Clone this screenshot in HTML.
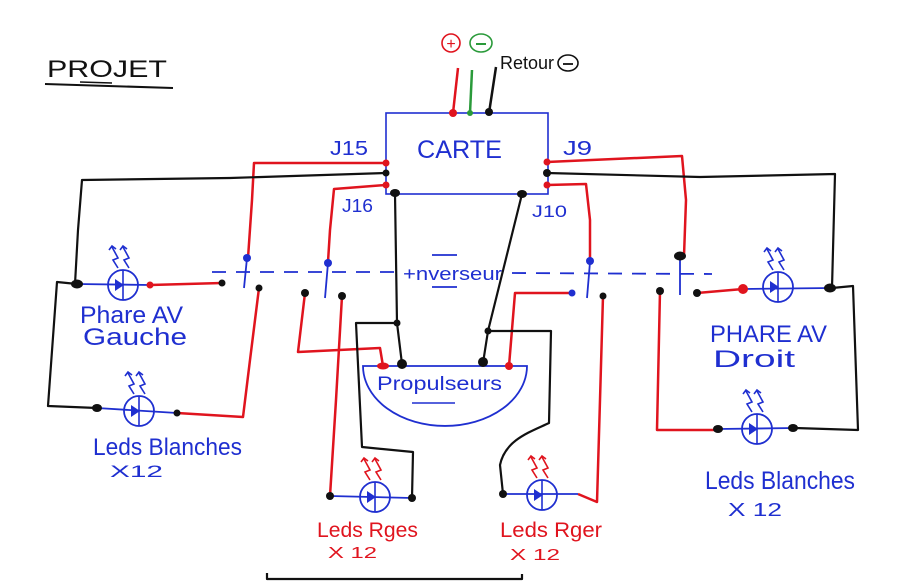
<!DOCTYPE html>
<html><head><meta charset="utf-8"><style>html,body{margin:0;padding:0;background:#fff}svg{display:block}</style></head>
<body>
<svg width="907" height="584" viewBox="0 0 907 584" xmlns="http://www.w3.org/2000/svg" font-family="Liberation Sans, sans-serif">
<rect width="907" height="584" fill="#fff"/>
<defs>
<g id="led">
  <circle cx="0" cy="0" r="15" fill="none" stroke="#1f2fd0" stroke-width="1.8"/>
  <line x1="0" y1="-15" x2="0" y2="15" stroke="#1f2fd0" stroke-width="1.6"/>
  <polygon points="-8,-6 -8,6 1,0" fill="#1f2fd0"/>
</g>
<g id="emitB" fill="none" stroke="#1f2fd0" stroke-width="1.6">
  <polyline points="-5,-17 -10,-25 -5,-27 -11,-38"/>
  <polyline points="-14,-35 -11,-39 -7,-36"/>
  <polyline points="6,-17 1,-25 6,-27 0,-38"/>
  <polyline points="-3,-35 0,-39 4,-36"/>
</g>
<g id="emitR" fill="none" stroke="#e0141e" stroke-width="1.6">
  <polyline points="-5,-17 -10,-25 -5,-27 -11,-38"/>
  <polyline points="-14,-35 -11,-39 -7,-36"/>
  <polyline points="6,-17 1,-25 6,-27 0,-38"/>
  <polyline points="-3,-35 0,-39 4,-36"/>
</g>
</defs>

<!-- Title -->
<text x="47" y="77" font-size="24" fill="#111" textLength="120" lengthAdjust="spacingAndGlyphs">PROJET</text>
<path d="M45,84 L173,88" stroke="#111" stroke-width="2" fill="none"/>
<path d="M80,82 L112,83" stroke="#111" stroke-width="1.5" fill="none"/>

<!-- power -->
<circle cx="451" cy="43" r="9" fill="none" stroke="#e0141e" stroke-width="1.6"/>
<text x="451" y="49" font-size="16" fill="#e0141e" text-anchor="middle">+</text>
<ellipse cx="481" cy="43" rx="11" ry="9" fill="none" stroke="#2a9a3a" stroke-width="1.6"/>
<line x1="476" y1="44" x2="486" y2="44" stroke="#2a9a3a" stroke-width="2"/>
<text x="500" y="69" font-size="18" fill="#111" textLength="54" lengthAdjust="spacingAndGlyphs">Retour</text>
<ellipse cx="568" cy="63" rx="10" ry="8" fill="none" stroke="#111" stroke-width="1.6"/>
<line x1="563" y1="64" x2="573" y2="64" stroke="#111" stroke-width="1.8"/>
<path d="M458,68 L453,113" stroke="#e0141e" stroke-width="2.5" fill="none"/>
<path d="M472,70 L470,113" stroke="#2a9a3a" stroke-width="2.5" fill="none"/>
<path d="M496,67 L489,113" stroke="#111" stroke-width="2.5" fill="none"/>

<!-- CARTE -->
<rect x="386" y="113" width="162" height="81" fill="none" stroke="#1f2fd0" stroke-width="1.6"/>
<text x="417" y="158" font-size="25" fill="#1f2fd0" textLength="85" lengthAdjust="spacingAndGlyphs">CARTE</text>
<text x="330" y="155" font-size="20" fill="#1f2fd0" textLength="38" lengthAdjust="spacingAndGlyphs">J15</text>
<text x="342" y="212" font-size="18" fill="#1f2fd0" textLength="31" lengthAdjust="spacingAndGlyphs">J16</text>
<text x="563" y="155" font-size="20" fill="#1f2fd0" textLength="29" lengthAdjust="spacingAndGlyphs">J9</text>
<text x="532" y="217" font-size="17" fill="#1f2fd0" textLength="35" lengthAdjust="spacingAndGlyphs">J10</text>

<!-- inverseur dashed link -->
<g stroke="#1f2fd0" stroke-width="1.8" fill="none">
  <path d="M212,272 L395,272" stroke-dasharray="14 10"/>
  <path d="M512,273 L712,274" stroke-dasharray="14 10"/>
  <path d="M247,258 L244,288"/>
  <path d="M328,263 L325,298"/>
  <path d="M590,262 L587,298"/>
  <path d="M680,256 L680,295"/>
  <path d="M432,255 L457,255"/>
  <path d="M432,287 L457,287"/>
</g>
<text x="403" y="280" font-size="18" fill="#1f2fd0" textLength="99" lengthAdjust="spacingAndGlyphs">+nverseur</text>

<!-- Propulseurs -->
<path d="M363,366 L527,366 A82,60 0 0 1 363,366 Z" fill="none" stroke="#1f2fd0" stroke-width="1.8"/>
<text x="377" y="390" font-size="19" fill="#1f2fd0" textLength="125" lengthAdjust="spacingAndGlyphs">Propulseurs</text>
<path d="M412,403 L455,403" stroke="#1f2fd0" stroke-width="1.6"/>

<!-- red wires -->
<g stroke="#e0141e" stroke-width="2.5" fill="none" stroke-linejoin="round">
  <path d="M386,163 L254,163 L252,200 L248,258"/>
  <path d="M386,185 L334,189 L330,230 L328,262"/>
  <path d="M547,162 L682,156 L686,200 L684,256"/>
  <path d="M547,185 L586,184 L590,220 L590,258"/>
  <path d="M150,285 L222,283"/>
  <path d="M259,288 L250,360 L243,417 L177,413"/>
  <path d="M305,293 L298,352 L380,348 L383,366"/>
  <path d="M342,296 L336,400 L330,496"/>
  <path d="M509,366 L515,293 L572,293"/>
  <path d="M603,296 L600,400 L597,502 L578,494"/>
  <path d="M660,291 L657,430 L718,430"/>
  <path d="M697,293 L743,289"/>
</g>

<!-- black wires -->
<g stroke="#111" stroke-width="2.2" fill="none" stroke-linejoin="round">
  <path d="M386,173 L230,178 L82,180 L78,230 L75,284"/>
  <path d="M77,284 L57,282 L48,406 L97,408"/>
  <path d="M395,194 L397,323 L402,364"/>
  <path d="M397,323 L356,323 L362,447 L413,452 L412,498"/>
  <path d="M522,194 L488,331 L483,363"/>
  <path d="M488,331 L551,331 L549,423 C530,432 505,440 500,465 L503,494"/>
  <path d="M547,173 L700,177 L835,174 L832,288"/>
  <path d="M832,288 L853,286 L858,430 L795,428"/>
  <path d="M267,573 L267,579 L522,579 L522,574"/>
</g>

<!-- blue led wires -->
<g stroke="#1f2fd0" stroke-width="1.8" fill="none">
  <path d="M77,284 L150,285"/>
  <path d="M97,408 L177,413"/>
  <path d="M330,496 L412,498"/>
  <path d="M503,494 L578,494"/>
  <path d="M743,289 L832,288"/>
  <path d="M718,429 L795,428"/>
</g>

<!-- LEDs -->
<use href="#led" x="123" y="285"/><use href="#emitB" x="123" y="285"/>
<use href="#led" x="139" y="411"/><use href="#emitB" x="139" y="411"/>
<use href="#led" x="375" y="497"/><use href="#emitR" x="375" y="497"/>
<use href="#led" x="542" y="495"/><use href="#emitR" x="542" y="495"/>
<use href="#led" x="778" y="287"/><use href="#emitB" x="778" y="287"/>
<use href="#led" x="757" y="429"/><use href="#emitB" x="757" y="429"/>

<!-- dots -->
<g fill="#111">
  <ellipse cx="77" cy="284" rx="6" ry="4.5"/>
  <circle cx="386" cy="173" r="3.5"/>
  <ellipse cx="395" cy="193" rx="5" ry="4"/>
  <circle cx="547" cy="173" r="4"/>
  <ellipse cx="522" cy="194" rx="5" ry="4"/>
  <circle cx="222" cy="283" r="3.5"/>
  <circle cx="259" cy="288" r="3.5"/>
  <circle cx="305" cy="293" r="4"/>
  <circle cx="342" cy="296" r="4"/>
  <circle cx="397" cy="323" r="3.5"/>
  <circle cx="402" cy="364" r="5"/>
  <circle cx="483" cy="362" r="5"/>
  <circle cx="488" cy="331" r="3.5"/>
  <circle cx="412" cy="498" r="4"/>
  <circle cx="503" cy="494" r="4"/>
  <circle cx="330" cy="496" r="4"/>
  <circle cx="603" cy="296" r="3.5"/>
  <ellipse cx="680" cy="256" rx="6" ry="4.5"/>
  <circle cx="660" cy="291" r="4"/>
  <circle cx="697" cy="293" r="4"/>
  <ellipse cx="830" cy="288" rx="6" ry="4.5"/>
  <ellipse cx="718" cy="429" rx="5" ry="4"/>
  <ellipse cx="793" cy="428" rx="5" ry="4"/>
  <ellipse cx="97" cy="408" rx="5" ry="4"/>
  <circle cx="177" cy="413" r="3.5"/>
  <circle cx="489" cy="112" r="4"/>
</g>
<g fill="#1f2fd0">
  <circle cx="247" cy="258" r="4"/>
  <circle cx="328" cy="263" r="4"/>
  <circle cx="590" cy="261" r="4"/>
  <circle cx="572" cy="293" r="3.5"/>
</g>
<g fill="#e0141e">
  <circle cx="386" cy="163" r="3.5"/>
  <circle cx="386" cy="185" r="3.5"/>
  <circle cx="547" cy="162" r="3.5"/>
  <circle cx="547" cy="185" r="3.5"/>
  <circle cx="150" cy="285" r="3.5"/>
  <ellipse cx="383" cy="366" rx="6" ry="3.5"/>
  <circle cx="509" cy="366" r="4"/>
  <circle cx="743" cy="289" r="5"/>
  <circle cx="453" cy="113" r="4"/>
</g>
<circle cx="470" cy="113" r="3" fill="#2a9a3a"/>

<!-- labels -->
<g fill="#1f2fd0">
  <text x="80" y="323" font-size="24" textLength="103" lengthAdjust="spacingAndGlyphs">Phare AV</text>
  <text x="83" y="345" font-size="24" textLength="104" lengthAdjust="spacingAndGlyphs">Gauche</text>
  <text x="93" y="455" font-size="24" textLength="149" lengthAdjust="spacingAndGlyphs">Leds Blanches</text>
  <text x="110" y="477" font-size="17" textLength="53" lengthAdjust="spacingAndGlyphs">X12</text>
  <text x="710" y="342" font-size="24" textLength="117" lengthAdjust="spacingAndGlyphs">PHARE AV</text>
  <text x="713" y="367" font-size="24" textLength="82" lengthAdjust="spacingAndGlyphs">Droit</text>
  <text x="705" y="489" font-size="25" textLength="150" lengthAdjust="spacingAndGlyphs">Leds Blanches</text>
  <text x="728" y="516" font-size="18" textLength="54" lengthAdjust="spacingAndGlyphs">X 12</text>
</g>
<g fill="#e0141e">
  <text x="317" y="537" font-size="21" textLength="101" lengthAdjust="spacingAndGlyphs">Leds Rges</text>
  <text x="328" y="558" font-size="16" textLength="49" lengthAdjust="spacingAndGlyphs">X 12</text>
  <text x="500" y="537" font-size="21" textLength="102" lengthAdjust="spacingAndGlyphs">Leds Rger</text>
  <text x="510" y="560" font-size="16" textLength="50" lengthAdjust="spacingAndGlyphs">X 12</text>
</g>
</svg>
</body></html>
